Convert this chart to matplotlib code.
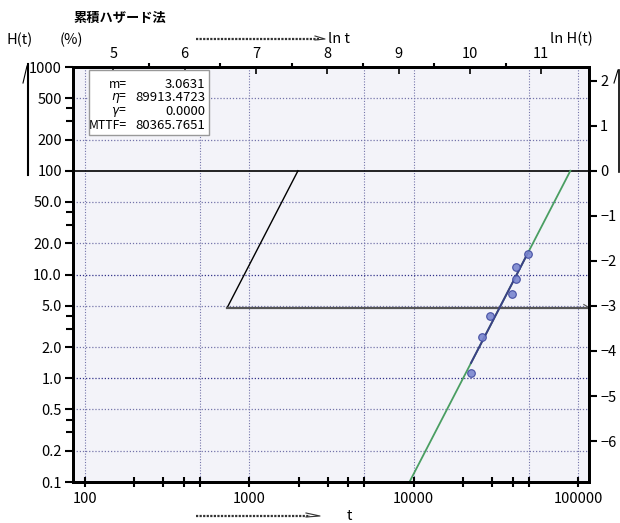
import numpy as np
import matplotlib
matplotlib.use('Agg')
from matplotlib import pyplot as plt
from matplotlib.lines import Line2D
from matplotlib.ticker import FixedLocator, NullFormatter, NullLocator

plt.rcParams['font.family'] = ['Noto Sans CJK JP', 'DejaVu Sans']
plt.rcParams['mathtext.fontset'] = 'dejavusans'

# failure data (t, cumulative hazard %)
t_fail = [22340, 26190, 29040, 39710, 41990, 42170, 49450]
h_pct = [1.13, 2.49, 3.97, 6.47, 9.03, 11.7, 15.6]

# weibull parameters
m = 3.0631
eta = 89913.4723
gamma = 0.0
mttf = 80365.7651

h_ticks = [0.1, 0.2, 0.5, 1, 2, 5, 10, 20, 50, 100, 200, 500, 1000]
h_labels = ['0.1', '0.2', '0.5', '1.0', '2.0', '5.0', '10.0', '20.0', '50.0',
            '100', '200', '500', '1000']
h_minor = [0.3, 0.4, 3, 4, 30, 40, 300, 400]
h_grid = [0.2, 0.5, 1, 2, 5, 10, 20, 50, 200, 500]
t_ticks = [100, 1000, 10000, 100000]
t_labels = ['100', '1000', '10000', '100000']
t_minor = [200, 300, 400, 500, 2000, 3000, 4000, 5000, 20000, 30000, 40000, 50000]
t_grid = [100, 500, 1000, 5000, 10000, 50000, 100000]
lnt_ticks = [5, 6, 7, 8, 9, 10, 11]
lnt_minor = [5.5, 6.5, 7.5, 8.5, 9.5, 10.5]
lnh_ticks = [2, 1, 0, -1, -2, -3, -4, -5, -6]

t_lim = (84.5, 116700)
h_lim = (0.1, 1000)

# slope construction on the hazard paper
est_h = [4.8, 100]
est_t_top = 1977

W, H = 620, 523
fig = plt.figure(figsize=(W / 100, H / 100), dpi=100)
ax = fig.add_axes([73 / W, 1 - 482 / H, (589 - 73) / W, (482 - 67) / H])
ax.set_facecolor('#f3f3f9')
ax.set_xscale('log')
ax.set_yscale('log')
ax.set_xlim(t_lim)
ax.set_ylim(h_lim)

# grid
for t in t_grid:
    ax.axvline(t, color='#7474aa', lw=0.8, ls=(0, (1, 1.5)), zorder=1)
for h in h_grid:
    c = '#33338a' if h in (1, 10) else '#7474aa'
    ax.axhline(h, color=c, lw=0.9, ls=(0, (1, 1.5)), zorder=1)
ax.axhline(100, color='black', lw=1.2, zorder=2)

# fitted line
h_line = np.array([0.1, 100])
t_line = eta * (h_line / 100) ** (1 / m)
ax.plot(t_line, h_line, color='#4a9e62', lw=1.3, zorder=3)
t_seg = np.array([min(t_fail), max(t_fail)])
h_seg = 100 * (t_seg / eta) ** m
ax.plot(t_seg, h_seg, color='#3b3f86', lw=1.4, zorder=4)
ax.scatter(t_fail, h_pct, s=30, facecolor='#7a86cf', edgecolor='#3a449c',
           linewidth=0.8, alpha=0.9, zorder=5)

# slope construction
est_t_bot = est_t_top * (est_h[0] / est_h[1]) ** (1 / m)
ax.plot([est_t_bot, est_t_top], est_h, color='black', lw=1.0, zorder=3)
ax.plot([est_t_bot, t_lim[1]], [est_h[0], est_h[0]], color='#555555', lw=1.6, zorder=3)
ax.plot([t_lim[1] * 0.93, t_lim[1]], [est_h[0] * 1.07, est_h[0]], color='#555555',
        lw=0.8, zorder=3)

# bottom / left axes
ax.xaxis.set_major_locator(FixedLocator(t_ticks))
ax.set_xticklabels(t_labels)
ax.xaxis.set_minor_locator(FixedLocator(t_minor))
ax.xaxis.set_minor_formatter(NullFormatter())
ax.tick_params(axis='x', which='both', direction='inout', length=7, width=1.5,
               labelsize=10.5, pad=4)
ax.yaxis.set_major_locator(FixedLocator(h_ticks))
ax.set_yticklabels(h_labels)
ax.yaxis.set_minor_locator(FixedLocator(h_minor))
ax.yaxis.set_minor_formatter(NullFormatter())
ax.tick_params(axis='y', which='major', direction='out', length=6, width=1.5,
               labelsize=10.5, pad=2)
ax.tick_params(axis='y', which='minor', direction='out', length=5, width=1.5)
for s in ax.spines.values():
    s.set_linewidth(2)

# top ln t axis
ax_top = ax.twiny()
ax_top.set_xlim(np.log(t_lim[0]), np.log(t_lim[1]))
ax_top.xaxis.set_major_locator(FixedLocator(lnt_ticks))
ax_top.xaxis.set_minor_locator(FixedLocator(lnt_minor))
ax_top.tick_params(axis='x', which='major', direction='in', length=5, width=1.2,
                   labelsize=10.5, pad=4)
ax_top.tick_params(axis='x', which='minor', direction='out', length=3, width=1.5)

# right ln H axis
ax_r = ax.twinx()
ax_r.set_ylim(np.log(h_lim[0] / 100), np.log(h_lim[1] / 100))
ax_r.yaxis.set_major_locator(FixedLocator(lnh_ticks))
ax_r.yaxis.set_minor_locator(NullLocator())
ax_r.set_yticklabels([str(v).replace('-', '\u2212') for v in lnh_ticks])
ax_r.tick_params(axis='y', direction='out', length=6, width=1.5, labelsize=10.5, pad=2)
for a in (ax_top, ax_r):
    for s in a.spines.values():
        s.set_linewidth(2)

# parameter box
box = plt.Rectangle((89 / W, 1 - 135 / H), 120 / W, 65 / H, transform=fig.transFigure,
                    facecolor='white', edgecolor='#999999', lw=1, zorder=10)
fig.add_artist(box)
rows = [('m=', f'{m:.4f}'), ('$\\eta$=', f'{eta:.4f}'),
        ('$\\gamma$=', f'{gamma:.4f}'), ('MTTF=', f'{mttf:.4f}')]
for i, (lab, val) in enumerate(rows):
    y = 1 - (84 + i * 13.8) / H
    fig.text(127 / W, y, lab, ha='right', va='center', fontsize=8.8, zorder=11)
    fig.text(205 / W, y, val, ha='right', va='center', fontsize=9.5, zorder=11)


def fline(xs, ys, **kw):
    fig.add_artist(Line2D([x / W for x in xs], [1 - y / H for y in ys],
                          transform=fig.transFigure, **kw))


# titles and axis captions
fig.text(73 / W, 1 - 18 / H, '累積ハザード法', fontsize=9.5, fontweight='bold',
         va='center', ha='left')
fig.text(7 / W, 1 - 40 / H, 'H(t)', fontsize=10.5, va='center', ha='left')
fig.text(60 / W, 1 - 40 / H, '(%)', fontsize=10.5, va='center', ha='left')
fig.text(550 / W, 1 - 39 / H, 'ln H(t)', fontsize=10.5, va='center', ha='left')
fig.text(328 / W, 1 - 39 / H, 'ln t', fontsize=10.5, va='center', ha='left')
fig.text(347 / W, 1 - 516 / H, 't', fontsize=10.5, va='center', ha='left')

# arrows
fline([196, 319], [39, 39], color='#333333', lw=1.6, ls=(0, (1, 0.6)))
fline([315, 325, 315], [36, 39, 40], color='#333333', lw=0.8)
fline([196, 310], [516, 516], color='#333333', lw=1.6, ls=(0, (1, 0.6)))
fline([306, 320, 306], [513, 516, 517], color='#333333', lw=0.8)
fline([28, 28], [64, 175], color='black', lw=1.5)
fline([23, 27], [83, 66], color='black', lw=0.8)
fline([619, 619], [70, 172], color='black', lw=1.2)
fline([614, 618], [83, 70], color='black', lw=0.8)

plt.savefig('out.png', dpi=100)
